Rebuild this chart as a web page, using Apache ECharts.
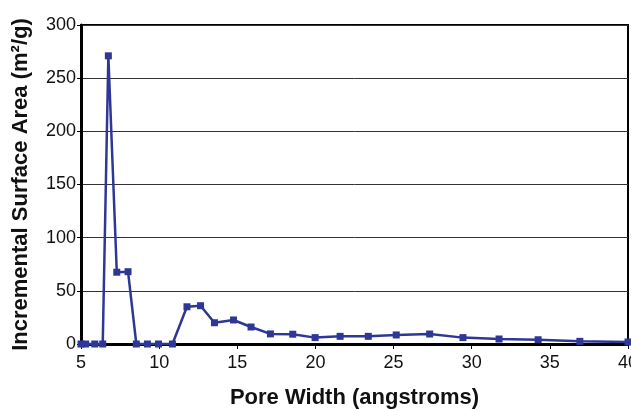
<!DOCTYPE html>
<html>
<head>
<meta charset="utf-8">
<script src="https://cdn.jsdelivr.net/npm/echarts@6/dist/echarts.min.js"></script>
<style>
  html, body { margin: 0; padding: 0; background: #fff; }
  #chart { width: 631px; height: 409px; }
</style>
</head>
<body>
<div id="chart"></div>
<script>
// pore width (angstroms) and incremental surface area (m2/g)
const poreWidth = [5.0, 5.3, 5.88, 6.39, 6.75, 7.29, 8.01, 8.54, 9.25, 9.96, 10.85,
  11.78, 12.65, 13.54, 14.76, 15.88, 17.12, 18.55, 19.98, 21.58, 23.38, 25.17,
  27.31, 29.44, 31.75, 34.25, 36.92, 40.0]
const surfaceArea = [0, 0, 0, 0, 271, 67.5, 68, 0, 0, 0, 0,
  35, 36, 20, 22.6, 16, 9.5, 9.2, 6, 7.2, 7.2, 8.5,
  9.4, 6, 4.7, 4, 2.5, 1.9]

const font = "'Liberation Sans Narrow', 'Liberation Sans', Arial, sans-serif"
const points = poreWidth.map((x, i) => [x, surfaceArea[i]])

let myChart = echarts.init(document.getElementById('chart'))
myChart.setOption({
  animation: false,
  grid: {
    left: 81, right: 3, top: 25, bottom: 65,
    outerBoundsMode: 'none',
    containLabel: false,
    show: true, borderColor: '#000', borderWidth: 2
  },
  xAxis: {
    type: 'value', min: 5, max: 40, interval: 5,
    name: 'Pore Width (angstroms)',
    nameLocation: 'middle', nameGap: 43,
    nameTextStyle: { fontFamily: 'Liberation Sans, Arial, sans-serif', fontWeight: 'bold', fontSize: 22, color: '#111' },
    axisLine: { lineStyle: { color: '#000', width: 3 } },
    axisTick: { show: true, length: 5, lineStyle: { color: '#000', width: 1 } },
    axisLabel: { fontFamily: font, fontSize: 18, color: '#111', margin: 10 },
    splitLine: { show: false }
  },
  yAxis: {
    type: 'value', min: 0, max: 300, interval: 50,
    name: 'Incremental Surface Area (m²/g)',
    nameLocation: 'middle', nameGap: 49, nameRotate: 90,
    nameTextStyle: { fontFamily: 'Liberation Sans, Arial, sans-serif', fontWeight: 'bold', fontSize: 22, color: '#111' },
    axisLine: { show: true, lineStyle: { color: '#000', width: 3 } },
    axisTick: { show: true, length: 4, lineStyle: { color: '#000', width: 1 } },
    axisLabel: { fontFamily: font, fontSize: 18, color: '#111', margin: 5 },
    splitLine: { show: true, lineStyle: { color: '#333', width: 1 } }
  },
  series: [{
    type: 'line',
    data: points,
    symbol: 'rect',
    symbolSize: 7,
    lineStyle: { color: '#2f3796', width: 2.5 },
    itemStyle: { color: '#2f3796' }
  }]
})
</script>
</body>
</html>
